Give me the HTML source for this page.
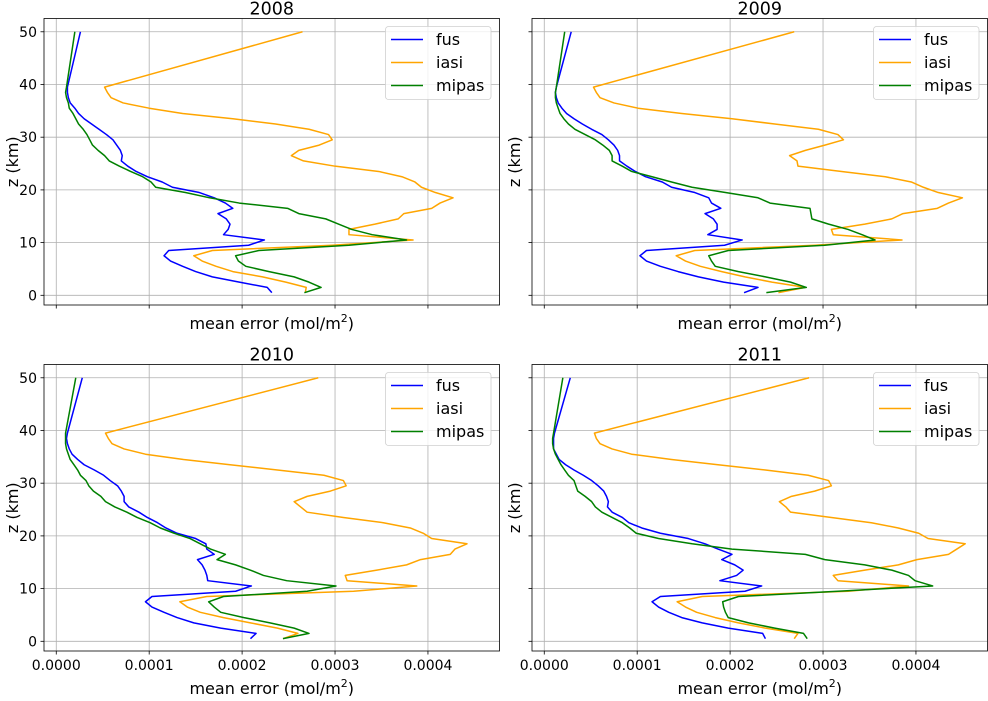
<!DOCTYPE html>
<html><head><meta charset="utf-8"><style>
body{margin:0;background:#fff;}
svg text{font-family:"DejaVu Sans","Liberation Sans",sans-serif;fill:#000;}
</style></head><body>
<svg id="fig" width="988" height="696" xmlns="http://www.w3.org/2000/svg"></svg>
<script>
const years = ["2008","2009","2010","2011"];
const zLevels = [0.5,1.5,2.5,3.5,4.5,5.5,6.5,7.5,8.5,9.5,10.5,11.5,12.5,13.5,14.5,15.5,16.5,17.5,18.5,19.5,20.5,21.5,22.5,23.5,24.5,25.5,26.5,27.5,28.5,29.5,30.5,31.5,32.5,33.5,34.5,35.5,36.5,37.5,38.5,39.5,50];
const xTicks = [0,0.0001,0.0002,0.0003,0.0004];
const xTickLabels = ["0.0000","0.0001","0.0002","0.0003","0.0004"];
const yTicks = [0,10,20,30,40,50];
const seriesNames = ["fus","iasi","mipas"];
// values in units of 1e-4 mol/m^2
const fus2008 = [2.32,2.27,1.97,1.68,1.50,1.36,1.23,1.16,1.21,2.07,2.24,1.80,1.85,1.87,1.83,1.74,1.90,1.82,1.70,1.54,1.25,1.14,0.98,0.86,0.77,0.70,0.71,0.69,0.65,0.61,0.54,0.46,0.38,0.30,0.24,0.20,0.15,0.13,0.12,0.12,0.26];
const iasi2008 = [2.68,2.69,2.47,2.22,1.90,1.72,1.57,1.48,1.68,2.97,3.84,3.15,3.15,3.43,3.68,3.74,4.04,4.13,4.27,4.08,3.93,3.86,3.72,3.47,3.00,2.66,2.53,2.61,2.83,2.97,2.93,2.72,2.36,1.90,1.36,1.00,0.72,0.59,0.55,0.52,2.65];
const mipas2008 = [2.67,2.85,2.72,2.56,2.29,2.04,1.96,1.93,2.18,3.15,3.77,3.40,3.18,3.04,2.90,2.61,2.49,1.97,1.65,1.39,1.07,1.02,0.93,0.80,0.68,0.57,0.52,0.45,0.39,0.36,0.33,0.29,0.24,0.21,0.18,0.14,0.13,0.11,0.10,0.11,0.20];
const fus2009 = [2.15,2.30,1.93,1.66,1.44,1.25,1.10,1.03,1.10,1.94,2.13,1.76,1.86,1.86,1.82,1.73,1.90,1.80,1.77,1.62,1.37,1.27,1.09,0.98,0.89,0.81,0.81,0.79,0.75,0.69,0.62,0.51,0.41,0.32,0.24,0.19,0.15,0.13,0.12,0.13,0.29];
const iasi2009 = [2.52,2.81,2.45,2.16,1.91,1.68,1.52,1.42,1.62,2.91,3.85,3.11,3.09,3.45,3.74,3.86,4.23,4.35,4.50,4.24,4.08,3.95,3.67,3.20,2.73,2.72,2.64,2.81,3.02,3.22,3.16,2.95,2.48,2.02,1.48,1.01,0.75,0.60,0.56,0.53,2.69];
const mipas2009 = [2.39,2.82,2.65,2.38,2.09,1.84,1.80,1.77,1.98,3.02,3.56,3.42,3.27,3.06,2.88,2.87,2.86,2.43,2.30,1.95,1.59,1.37,1.16,0.94,0.84,0.73,0.73,0.70,0.63,0.55,0.44,0.33,0.26,0.21,0.17,0.15,0.13,0.12,0.12,0.13,0.22];
const fus2010 = [2.09,2.15,1.77,1.48,1.30,1.16,1.03,0.96,1.03,1.93,2.10,1.63,1.62,1.60,1.57,1.52,1.70,1.62,1.61,1.50,1.30,1.18,1.09,0.98,0.89,0.78,0.73,0.73,0.70,0.66,0.58,0.51,0.41,0.30,0.23,0.17,0.14,0.12,0.11,0.12,0.28];
const iasi2010 = [2.44,2.60,2.38,2.09,1.80,1.55,1.41,1.33,1.62,3.20,3.88,3.13,3.11,3.45,3.77,3.92,4.24,4.29,4.42,4.04,3.95,3.81,3.52,3.09,2.70,2.63,2.56,2.70,2.95,3.12,3.09,2.88,2.38,1.87,1.37,0.96,0.73,0.60,0.56,0.53,2.82];
const mipas2010 = [2.44,2.72,2.56,2.30,2.02,1.77,1.70,1.64,1.80,2.70,3.01,2.48,2.23,2.09,1.93,1.73,1.82,1.66,1.55,1.44,1.27,1.12,1.01,0.87,0.76,0.63,0.53,0.48,0.40,0.35,0.32,0.26,0.23,0.19,0.15,0.13,0.11,0.10,0.10,0.10,0.21];
const fus2011 = [2.38,2.35,1.98,1.70,1.48,1.34,1.23,1.16,1.25,2.16,2.34,1.89,2.07,2.14,2.05,1.91,2.02,1.87,1.73,1.55,1.25,1.05,0.91,0.84,0.73,0.68,0.69,0.67,0.64,0.58,0.51,0.42,0.32,0.23,0.16,0.13,0.10,0.10,0.10,0.11,0.28];
const iasi2011 = [2.69,2.73,2.38,2.09,1.84,1.64,1.52,1.43,1.70,3.27,3.92,3.16,3.11,3.45,3.81,4.01,4.35,4.44,4.53,4.13,4.03,3.81,3.52,3.09,2.65,2.60,2.53,2.66,2.91,3.09,3.06,2.84,2.38,1.87,1.37,0.94,0.73,0.60,0.56,0.54,2.85];
const mipas2011 = [2.83,2.79,2.48,2.20,1.98,1.95,1.93,1.92,2.09,3.16,4.18,3.99,3.92,3.74,3.45,3.02,2.81,2.02,1.59,1.23,0.99,0.92,0.84,0.73,0.62,0.55,0.51,0.44,0.36,0.34,0.32,0.26,0.22,0.18,0.15,0.12,0.10,0.09,0.09,0.10,0.20];

const allData = [[fus2008,iasi2008,mipas2008],[fus2009,iasi2009,mipas2009],[fus2010,iasi2010,mipas2010],[fus2011,iasi2011,mipas2011]];
const colors = ["#0000ff","#ffa500","#008000"];
const NS="http://www.w3.org/2000/svg";
const svg=document.getElementById('fig');
function mk(tag,attrs,parent){const e=document.createElementNS(NS,tag);for(const k in attrs)e.setAttribute(k,attrs[k]);(parent||svg).appendChild(e);return e;}
const W=455.5,H=286.5;
const XMIN=-0.132e-4,XMAX=4.77e-4,YMIN=-1.84,YMAX=52.52;
const origins=[[44,18.5],[532,18.5],[44,364.5],[532,364.5]];
for(let p=0;p<4;p++){
  const [ox,oy]=origins[p];
  const xs=v=>ox+(v-XMIN)/(XMAX-XMIN)*W;
  const ys=v=>oy+H-(v-YMIN)/(YMAX-YMIN)*H;
  const g=mk('g',{});
  
  
  const grid=mk('g',{stroke:'#b0b0b0','stroke-width':0.8},g);
  
  
  xTicks.forEach(t=>mk('line',{x1:xs(t),x2:xs(t),y1:oy,y2:oy+H},grid));
  yTicks.forEach(t=>mk('line',{x1:ox,x2:ox+W,y1:ys(t),y2:ys(t)},grid));
  for(let s=0;s<3;s++){
    const vals=allData[p][s];
    const pts=vals.map((v,i)=>xs(v*1e-4).toFixed(2)+','+ys(zLevels[i]).toFixed(2)).join(' ');
    const pl=mk('polyline',{points:pts,fill:'none',stroke:colors[s],'stroke-width':1.5,'stroke-linejoin':'round'},g);
    
    
  }
  const fr=mk('rect',{x:ox,y:oy,width:W,height:H,fill:'none',stroke:'#000','stroke-width':0.8},g);
  
  
  xTicks.forEach((t,i)=>{
    mk('line',{x1:xs(t),x2:xs(t),y1:oy+H,y2:oy+H+3.5,stroke:'#000','stroke-width':0.8},g);
    if(p>=2){const tx=mk('text',{x:xs(t),y:oy+H+19,'text-anchor':'middle','font-size':14},g);tx.textContent=xTickLabels[i];
      
      }
  });
  yTicks.forEach(t=>{
    mk('line',{x1:ox-3.5,x2:ox,y1:ys(t),y2:ys(t),stroke:'#000','stroke-width':0.8},g);
    if(p%2==0){const tx=mk('text',{x:ox-7,y:ys(t)+5,'text-anchor':'end','font-size':14},g);tx.textContent=t;
      
      }
  });
  const ti=mk('text',{x:ox+W/2,y:oy-4,'text-anchor':'middle','font-size':17.5},g);ti.textContent=years[p];
  
  
  const xl=mk('text',{x:ox+W/2,y:p>=2?oy+H+43:oy+H+24,'text-anchor':'middle','font-size':16},g);
  xl.innerHTML='mean error (mol/m<tspan font-size="11" dy="-7">2</tspan><tspan dy="7">)</tspan>';
  
  
  const yx=ox-26+(p%2?14:0), yy=oy+H/2;
  const yl=mk('text',{x:yx,y:yy,'text-anchor':'middle','font-size':16,transform:`rotate(-90 ${yx} ${yy})`},g);yl.textContent='z (km)';
  
  
  const lg=mk('g',{},g);
  
  
  mk('rect',{x:ox+341.5,y:oy+8,width:105.5,height:73,rx:3,fill:'#fff','fill-opacity':0.8,stroke:'#d0d0d0','stroke-width':0.8},lg);
  for(let s=0;s<3;s++){
    const ly=oy+21+s*23;
    mk('line',{x1:ox+347,x2:ox+379,y1:ly,y2:ly,stroke:colors[s],'stroke-width':1.5},lg);
    const t=mk('text',{x:ox+392,y:ly+5.5,'font-size':16},lg);t.textContent=seriesNames[s];
    
    
  }
}
</script>
</body></html>
